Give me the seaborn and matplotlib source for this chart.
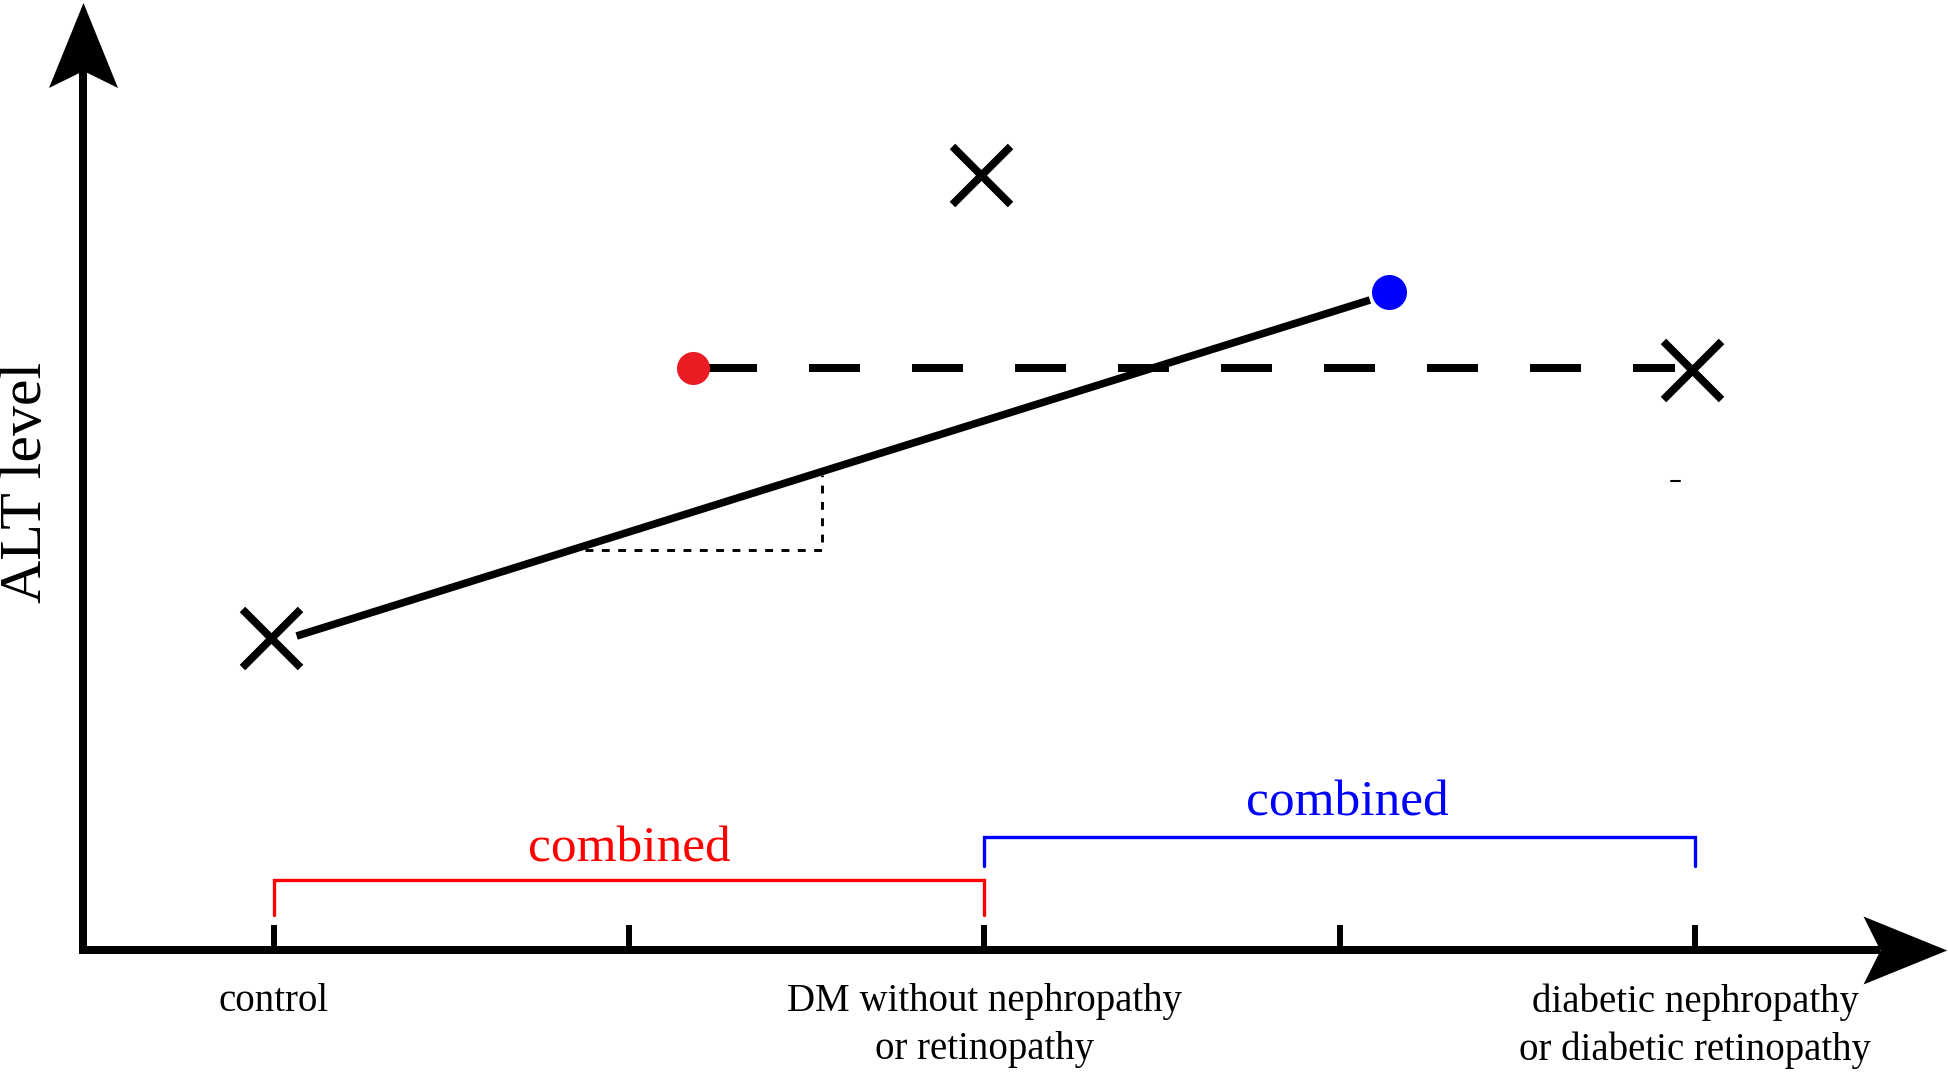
import numpy as np
import pandas as pd
import matplotlib
matplotlib.use("Agg")
import matplotlib.pyplot as plt
from matplotlib.path import Path
import seaborn as sns

# ---------------- data ----------------
tick_positions = [0, 1, 2, 3, 4]
tick_labels = ["control", "", "DM without nephropathy\nor retinopathy", "",
               "diabetic nephropathy\nor diabetic retinopathy"]

# group means (black crosses)
group_x = [-0.006, 1.99, 3.99]
group_alt = [3.12, 7.75, 5.80]

# combined groups (coloured dots)
red_dot_x = [1.18]
red_dot_alt = [5.82]
blue_dot_x = [3.14]
blue_dot_alt = [6.58]

# trend lines
trend_x = [0.065, 3.085]
trend_alt = [3.14, 6.50]
flat_x = [1.217, 3.943]
flat_alt = [5.82, 5.82]

# slope triangle (dotted)
slope_x = [0.876, 1.542, 1.542]
slope_alt = [4.00, 4.00, 4.75]

# stray tick near right cross
stray_x = [3.932, 3.958]
stray_alt = [4.69, 4.69]

# brackets
red_span = [0, 2]
red_bracket_alt = [0.35, 0.70]
blue_span = [2, 4]
blue_bracket_alt = [0.84, 1.13]
red_label_pos = (1.0, 0.89)
blue_label_pos = (3.02, 1.35)

RED = "#ec1c24"
BLUE = "#0000ff"

# ---------------- style ----------------
sns.set_style("white")
plt.rcParams["font.family"] = ["Liberation Serif", "DejaVu Serif"]

fig = plt.figure(figsize=(19.49, 10.72), dpi=100)
ax = fig.add_axes([0, 0, 1, 1])
ax.set_xlim(-0.7696, 4.7144)
ax.set_ylim(-1.22, 9.50)

# trend lines
sns.lineplot(x=trend_x, y=trend_alt, color="black", linewidth=5.5,
             sort=False, estimator=None, ax=ax, solid_capstyle="butt")
sns.lineplot(x=flat_x, y=flat_alt, color="black", linewidth=5.76,
             sort=False, estimator=None, ax=ax,
             linestyle=(0, (6.375, 6.5)), dash_capstyle="butt")
sns.lineplot(x=slope_x, y=slope_alt, color="black", linewidth=2.1,
             sort=False, estimator=None, ax=ax,
             linestyle=(0, (2.7, 2.9)))
sns.lineplot(x=stray_x, y=stray_alt, color="black", linewidth=1.5,
             sort=False, estimator=None, ax=ax)

# crosses and dots
sns.scatterplot(x=group_x, y=group_alt, marker="x", s=1750, color="black",
                linewidth=5.6, ax=ax, zorder=5)
sns.scatterplot(x=red_dot_x, y=red_dot_alt, s=566, color=RED,
                edgecolor=RED, linewidth=0, ax=ax, zorder=6)
sns.scatterplot(x=blue_dot_x, y=blue_dot_alt, s=635, color=BLUE,
                edgecolor=BLUE, linewidth=0, ax=ax, zorder=6)

# brackets
ax.plot([red_span[0], red_span[0], red_span[1], red_span[1]],
        [red_bracket_alt[0], red_bracket_alt[1], red_bracket_alt[1], red_bracket_alt[0]],
        color="#ff0000", linewidth=2.4, solid_joinstyle="miter")
ax.plot([blue_span[0], blue_span[0], blue_span[1], blue_span[1]],
        [blue_bracket_alt[0], blue_bracket_alt[1], blue_bracket_alt[1], blue_bracket_alt[0]],
        color=BLUE, linewidth=2.4, solid_joinstyle="miter")
ax.text(*red_label_pos, "combined", color="#ff0000", fontsize=37,
        ha="center", va="baseline")
ax.text(*blue_label_pos, "combined", color=BLUE, fontsize=37,
        ha="center", va="baseline")

# axes as arrows
y_axis_x = -0.537
for side in ["top", "right"]:
    ax.spines[side].set_visible(False)
ax.spines["bottom"].set_position(("data", 0))
ax.spines["left"].set_position(("data", y_axis_x))
ax.spines["bottom"].set_bounds(y_axis_x - 0.011, 4.52)
ax.spines["left"].set_bounds(-0.04, 8.8)
for side in ["bottom", "left"]:
    ax.spines[side].set_linewidth(5.76)
    ax.spines[side].set_color("black")
    ax.spines[side].set_capstyle("butt")

head_up = Path([(0, 42.5), (34.5, -42.5), (0, -25.5), (-34.5, -42.5), (0, 42.5)],
               [Path.MOVETO, Path.LINETO, Path.LINETO, Path.LINETO, Path.CLOSEPOLY])
head_right = Path([(41.7, 0), (-42, 34), (-25, 0), (-42, -34), (41.7, 0)],
                  [Path.MOVETO, Path.LINETO, Path.LINETO, Path.LINETO, Path.CLOSEPOLY])
ax.plot([y_axis_x], [9.055], marker=head_up, markersize=61.2, color="black",
        markeredgewidth=0, clip_on=False, zorder=7)
ax.plot([4.591], [0.0], marker=head_right, markersize=60.5, color="black",
        markeredgewidth=0, clip_on=False, zorder=7)

ax.set_xticks(tick_positions)
ax.set_xticklabels(tick_labels)
ax.tick_params(axis="x", direction="in", length=18, width=4.3, color="black",
               pad=24, labelsize=28, labelcolor="black", bottom=True)
for t in ax.get_xticklabels():
    t.set_linespacing(1.38)
ax.set_yticks([])
ax.set_xlabel("")
ax.set_ylabel("ALT level", fontsize=43, color="black")
ax.yaxis.set_label_coords(27 / 1949, 1 - 482 / 1072)
ax.yaxis.label.set_va("center")
ax.grid(False)

fig.savefig("out.png", dpi=100, facecolor="white")
